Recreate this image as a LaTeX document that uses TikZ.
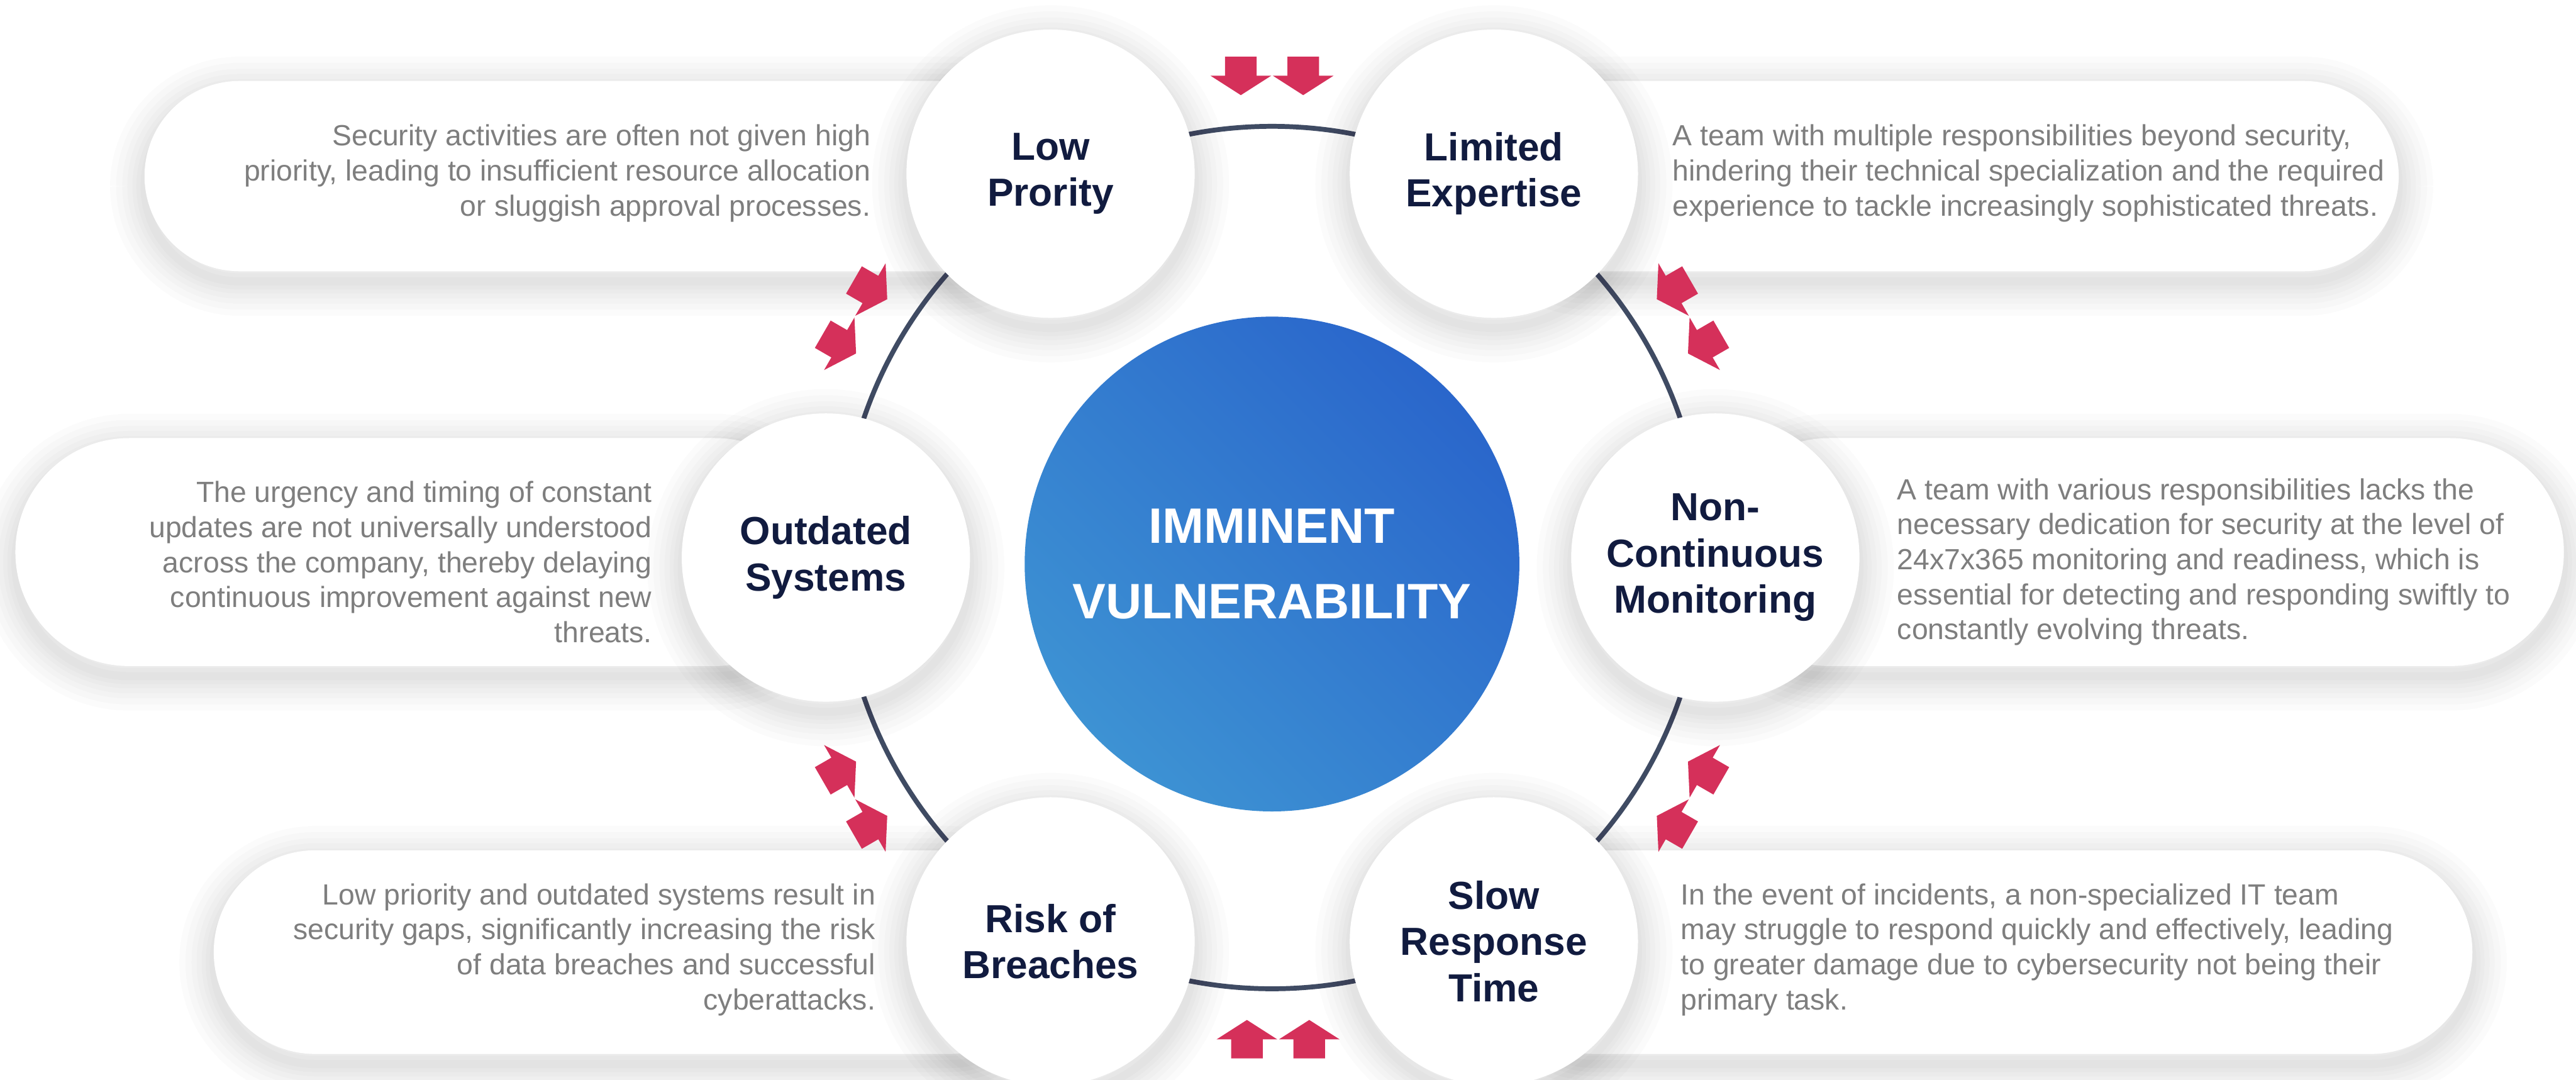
\documentclass[tikz,border=0pt]{standalone}
\usepackage{fontspec}
\setmainfont{Liberation Sans}
\usepackage{xcolor}

\definecolor{navy}{HTML}{111B3F}
\definecolor{ringgray}{HTML}{3F4B63}
\definecolor{textgray}{HTML}{7E7E7E}
\definecolor{arrowred}{HTML}{D5305A}
\definecolor{blueA}{HTML}{2A66CB}
\definecolor{blueB}{HTML}{3D92D3}

\tikzset{
  pics/pusharrow/.style={code={
    \fill[arrowred] (-0.39,-0.47) -- (0.39,-0.47) -- (0.39,0) -- (0.75,0)
      -- (0,0.48) -- (-0.75,0) -- (-0.39,0) -- cycle;
  }},
  halo/.style={preaction={draw=black,draw opacity=0.017,line width=#1,transform canvas={yshift=-0.25cm}}}
}

\begin{document}
\begin{tikzpicture}[inner sep=0pt]
	\tikzstyle{soft}=[halo=1.7cm,halo=1.4cm,halo=1.1cm,halo=0.85cm,halo=0.6cm,halo=0.4cm,halo=0.2cm]
	\tikzstyle{pill}=[fill=white,soft]
	\tikzstyle{bubble}=[circle,fill=white,soft,minimum size=7.12cm,align=center,text=navy,font=\fontsize{27.5}{32.5}\selectfont\bfseries]
	\tikzstyle{core}=[circle,minimum size=12.22cm,align=center,text=white,top color=blueA,bottom color=blueB,shading angle=-45,font=\fontsize{35}{53}\selectfont\bfseries]
	\tikzstyle{desc}=[text=textgray,font=\fontsize{20.5}{24.6}\selectfont]
	\tikzstyle{ring}=[draw=ringgray,line width=0.12cm]

	\useasboundingbox (0,0) rectangle (63.63,26.67);
	\fill[white] (0,0) rectangle (63.63,26.67);

	% text panels
	\path[pill,rounded corners=2.35cm] (3.57,19.97) rectangle (25.95,24.67);
	\path[pill,rounded corners=2.35cm] (36.90,19.97) rectangle (59.25,24.67);
	\path[pill,rounded corners=2.81cm] (0.38,10.22) rectangle (20.47,15.85);
	\path[pill,rounded corners=2.81cm] (42.37,10.22) rectangle (63.33,15.85);
	\path[pill,rounded corners=2.51cm] (5.28,0.64) rectangle (25.95,5.67);
	\path[pill,rounded corners=2.51cm] (36.90,0.64) rectangle (61.07,5.67);

	\coordinate (O) at (31.42,12.90);
	\path[ring] (O) circle (10.65);

	\pic[rotate=180] at (30.65,24.80) {pusharrow};
	\pic[rotate=180] at (32.19,24.80) {pusharrow};
	\pic[rotate=120] at (41.34,19.52) {pusharrow};
	\pic[rotate=120] at (42.11,18.18) {pusharrow};
	\pic[rotate=60]  at (42.11,7.62)  {pusharrow};
	\pic[rotate=60]  at (41.34,6.28)  {pusharrow};
	\pic[rotate=0]   at (30.80,1.00)  {pusharrow};
	\pic[rotate=0]   at (32.34,1.00)  {pusharrow};
	\pic[rotate=300] at (21.50,6.28)  {pusharrow};
	\pic[rotate=300] at (20.73,7.62)  {pusharrow};
	\pic[rotate=240] at (20.73,18.18) {pusharrow};
	\pic[rotate=240] at (21.50,19.52) {pusharrow};

	\node[bubble] (A) at (25.95,22.38) {Low\\Prority};
	\node[bubble] (B) at (36.90,22.38) {Limited\\Expertise};
	\node[bubble] (C) at (42.37,12.90) {Non-\\Continuous\\Monitoring};
	\node[bubble] (D) at (36.90,3.42)  {Slow\\Response\\Time};
	\node[bubble] (E) at (25.95,3.42)  {Risk of\\Breaches};
	\node[bubble] (F) at (20.40,12.90) {Outdated\\Systems};

	\node[core] (V) at (31.42,12.74) {IMMINENT\\VULNERABILITY};

	\node[desc,anchor=east,align=right] (TA) at (21.51,22.39)
		{Security activities are often not given high\\priority, leading to insufficient resource allocation\\or sluggish approval processes.};
	\node[desc,anchor=west,align=left] (TB) at (41.31,22.39)
		{A team with multiple responsibilities beyond security,\\hindering their technical specialization and the required\\experience to tackle increasingly sophisticated threats.};
	\node[desc,anchor=west,align=left] (TC) at (46.86,12.79)
		{A team with various responsibilities lacks the\\necessary dedication for security at the level of\\24x7x365 monitoring and readiness, which is\\essential for detecting and responding swiftly to\\constantly evolving threats.};
	\node[desc,anchor=west,align=left] (TD) at (41.51,3.22)
		{In the event of incidents, a non-specialized IT team\\may struggle to respond quickly and effectively, leading\\to greater damage due to cybersecurity not being their\\primary task.};
	\node[desc,anchor=east,align=right] (TE) at (21.63,3.22)
		{Low priority and outdated systems result in\\security gaps, significantly increasing the risk\\of data breaches and successful\\cyberattacks.};
	\node[desc,anchor=east,align=right] (TF) at (16.11,12.79)
		{The urgency and timing of constant\\updates are not universally understood\\across the company, thereby delaying\\continuous improvement against new\\threats.};
\end{tikzpicture}
\end{document}
